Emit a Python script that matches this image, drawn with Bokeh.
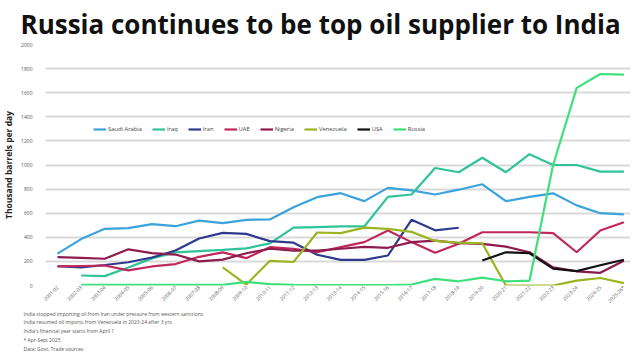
import math
from bokeh.plotting import figure
from bokeh.models import (Range1d, FixedTicker, Legend, LegendItem, ColumnDataSource, Title)
from bokeh.embed import file_html
from bokeh.resources import INLINE

nan = float("nan")

years = ["2001-02", "2002-03", "2003-04", "2004-05", "2005-06", "2006-07", "2007-08",
         "2008-09", "2009-10", "2010-11", "2011-12", "2012-13", "2013-14", "2014-15",
         "2015-16", "2016-17", "2017-18", "2018-19", "2019-20", "2020-21", "2021-22",
         "2022-23", "2023-24", "2024-25", "2025-26*"]

saudi = [265, 385, 470, 476, 510, 492, 538, 518, 545, 548, 650, 733, 766, 700, 810,
         790, 755, 795, 840, 700, 735, 765, 665, 600, 590]
iraq = [nan, 83, 78, 150, 225, 275, 285, 295, 308, 350, 480, 485, 490, 490, 735,
        755, 975, 940, 1060, 940, 1090, 1000, 1000, 945, 945]
iran = [160, 150, 170, 193, 232, 290, 390, 437, 428, 368, 355, 255, 213, 213, 249,
        545, 458, 479, nan, nan, nan, nan, nan, nan, nan]
uae = [158, 162, 166, 125, 158, 178, 238, 275, 227, 318, 305, 276, 318, 360, 456,
       360, 271, 346, 442, 442, 442, 434, 276, 456, 525]
nigeria = [235, 230, 222, 300, 268, 257, 200, 215, 268, 305, 290, 290, 305, 320, 313,
           360, 373, 351, 346, 323, 276, 150, 118, 105, 205]
venezuela = [nan, nan, nan, nan, nan, nan, nan, 150, 8, 205, 195, 440, 435, 480, 470,
             445, 370, 355, 350, 0, 0, 0, 40, 62, 20]
usa = [nan] * 18 + [207, 276, 268, 140, 119, 168, 214]
russia = [nan, 5, 5, 5, 5, 5, 5, 5, 30, 12, 5, 3, 3, 3, 3, 8, 55, 35, 65, 35, 40,
          1000, 1640, 1755, 1750]

series_names = ["Saudi Arabia", "Iraq", "Iran", "UAE", "Nigeria", "Venezuela", "USA", "Russia"]
series_values = [saudi, iraq, iran, uae, nigeria, venezuela, usa, russia]
series_colors = ["#3BA3DB", "#2FC39A", "#2E3A8C", "#C0285C", "#8E1B4E", "#9BB522",
                 "#111111", "#3DE07A"]

title_text = "Russia continues to be top oil supplier to India"
y_title = "Thousand barrels per day"
notes = ["India stopped importing oil from Iran under pressure from western sanctions",
         "India resumed oil imports from Venezuela in 2023-24 after 3 yrs",
         "India's financial year starts from April 1",
         "* Apr-Sept 2025",
         "Data: Govt, Trade sources"]

FONT = "Open Sans"

p = figure(output_backend="svg", toolbar_location=None,
           frame_width=585, frame_height=241,
           min_border_left=32, min_border_right=2, min_border_top=36, min_border_bottom=57,
           x_range=Range1d(-0.51, 24.28), y_range=Range1d(0, 2000),
           background_fill_color="white", border_fill_color="white")
p.outline_line_color = None
p.xgrid.grid_line_color = None
p.ygrid.grid_line_color = "#D9D9D9"
p.ygrid.grid_line_width = 2
p.ygrid.ticker = FixedTicker(ticks=list(range(0, 2001, 200)))

p.title.text = title_text
p.title.align = "left"
p.title.offset = -25
p.title.standoff = 6
p.title.text_font = FONT
p.title.text_font_size = "26px"
p.title.text_font_style = "bold"
p.title.text_color = "#111111"

xs = list(range(len(years)))
p.xaxis.ticker = FixedTicker(ticks=xs)
p.xaxis.major_label_overrides = {i: y for i, y in enumerate(years)}
p.xaxis.major_label_orientation = math.pi / 4
p.xaxis.major_label_text_font_size = "5px"
p.xaxis.major_label_text_color = "#555555"
p.xaxis.major_label_text_font = FONT
p.xaxis.axis_line_color = None
p.xaxis.major_tick_line_color = None
p.xaxis.minor_tick_line_color = None
p.xaxis.major_tick_out = 0
p.xaxis.major_tick_in = 0
p.xaxis.major_label_standoff = 1

p.yaxis.ticker = FixedTicker(ticks=list(range(0, 2001, 200)))
p.yaxis.major_label_text_font_size = "5px"
p.yaxis.major_label_text_color = "#555555"
p.yaxis.major_label_text_font = FONT
p.yaxis.axis_line_color = None
p.yaxis.major_tick_line_color = None
p.yaxis.minor_tick_line_color = None
p.yaxis.major_label_standoff = 7
p.yaxis.axis_label = y_title
p.yaxis.axis_label_text_font = FONT
p.yaxis.axis_label_text_font_size = "8.5px"
p.yaxis.axis_label_text_font_style = "bold"
p.yaxis.axis_label_text_color = "#222222"
p.yaxis.axis_label_standoff = 4

items = []
for name, vals, col in zip(series_names, series_values, series_colors):
    src = ColumnDataSource(dict(x=xs, y=vals))
    r = p.line("x", "y", source=src, line_color=col, line_width=2.2)
    items.append(LegendItem(label=name, renderers=[r]))

legend = Legend(items=items, orientation="horizontal", location=(48, 152),
                background_fill_alpha=0, border_line_color=None,
                padding=0, margin=0, spacing=10, glyph_width=13, glyph_height=6,
                label_standoff=2, label_text_font_size="5.8px", label_height=6,
                label_width=0,
                label_text_font=FONT, label_text_color="#444444")
p.add_layout(legend, "center")

for i, t in enumerate(notes):
    nt = Title(text=t, align="left", offset=-22, text_font=FONT, text_font_size="5px",
               text_font_style="normal", text_color="#555555",
               standoff=(0 if i == 0 else 0.7), padding=0)
    p.add_layout(nt, "below")

open("out.html", "w").write(file_html(p, INLINE))
